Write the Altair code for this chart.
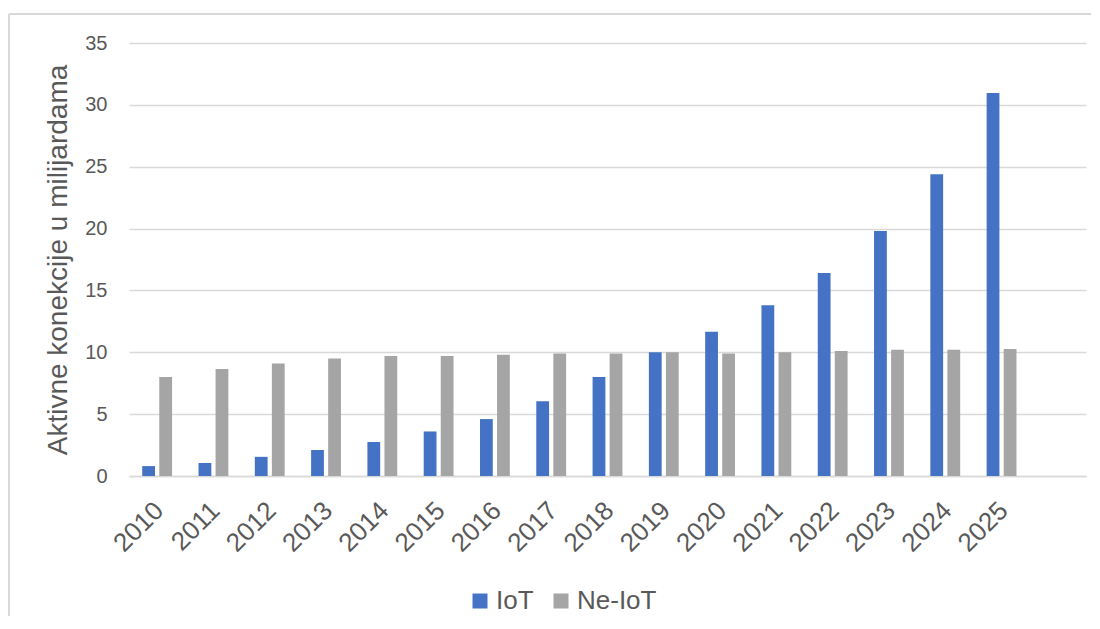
import altair as alt
import pandas as pd

years = [str(y) for y in range(2010, 2026)]
iot = [0.8, 1.05, 1.55, 2.1, 2.75, 3.6, 4.6, 6.05, 8.0, 10.0, 11.65, 13.8, 16.4, 19.8, 24.4, 30.95]
ne_iot = [8.0, 8.65, 9.1, 9.5, 9.7, 9.7, 9.8, 9.9, 9.9, 10.0, 9.9, 10.0, 10.1, 10.2, 10.2, 10.27]
series = ["IoT", "Ne-IoT"]
colors = ["#4472C4", "#A5A5A5"]

rows = []
for i, y in enumerate(years):
    rows.append({"godina": y, "serija": "IoT", "vrijednost": iot[i]})
    rows.append({"godina": y, "serija": "Ne-IoT", "vrijednost": ne_iot[i]})
df = pd.DataFrame(rows)

FONT = "Liberation Sans"
GREY = "#595959"
GRID = "#D9D9D9"

bars = alt.Chart(df).mark_bar().encode(
    x=alt.X("godina:N", sort=None,
            scale=alt.Scale(domain=years + [" "], paddingInner=0.47, paddingOuter=0.235),
            axis=alt.Axis(title=None, labelAngle=-45, labelFontSize=26, labelColor=GREY,
                          labelFont=FONT, ticks=False, domainColor=GRID, domainWidth=1.5,
                          labelPadding=21, labelOffset=-7, grid=False)),
    xOffset=alt.XOffset("serija:N", scale=alt.Scale(domain=series, paddingInner=0.25, paddingOuter=0)),
    y=alt.Y("vrijednost:Q",
            scale=alt.Scale(domain=[0, 35], nice=False),
            axis=alt.Axis(title="Aktivne konekcije u milijardama", values=list(range(0, 36, 5)),
                          titleFontSize=28, titleFontWeight="normal", titleColor=GREY,
                          titleFont=FONT, titlePadding=12,
                          labelFontSize=20, labelColor=GREY, labelFont=FONT, labelPadding=22,
                          ticks=False, domain=False, gridColor=GRID, gridWidth=1.5)),
    color=alt.Color("serija:N", scale=alt.Scale(domain=series, range=colors),
                    legend=alt.Legend(title=None, orient="none", direction="horizontal",
                                      legendX=338, legendY=545, symbolType="square",
                                      symbolSize=225, symbolStrokeWidth=0,
                                      labelFontSize=26, labelColor=GREY, labelFont=FONT,
                                      columnPadding=14, labelOffset=3)),
)

border_left = alt.Chart(df).mark_rule(color=GRID, strokeWidth=1.5).encode(
    x=alt.value(-120), y=alt.value(-29), y2=alt.value(573))
border_top = alt.Chart(df).mark_rule(color=GRID, strokeWidth=1.5).encode(
    x=alt.value(-120), x2=alt.value(962), y=alt.value(-29))

chart = alt.layer(border_left, border_top, bars).properties(
    width=957, height=433,
    padding={"left": 0, "top": 5, "right": 0, "bottom": 0},
).configure(background="white").configure_view(stroke="transparent", strokeWidth=0)

chart.save("out.html", embed_options={"renderer": "svg", "actions": False})
